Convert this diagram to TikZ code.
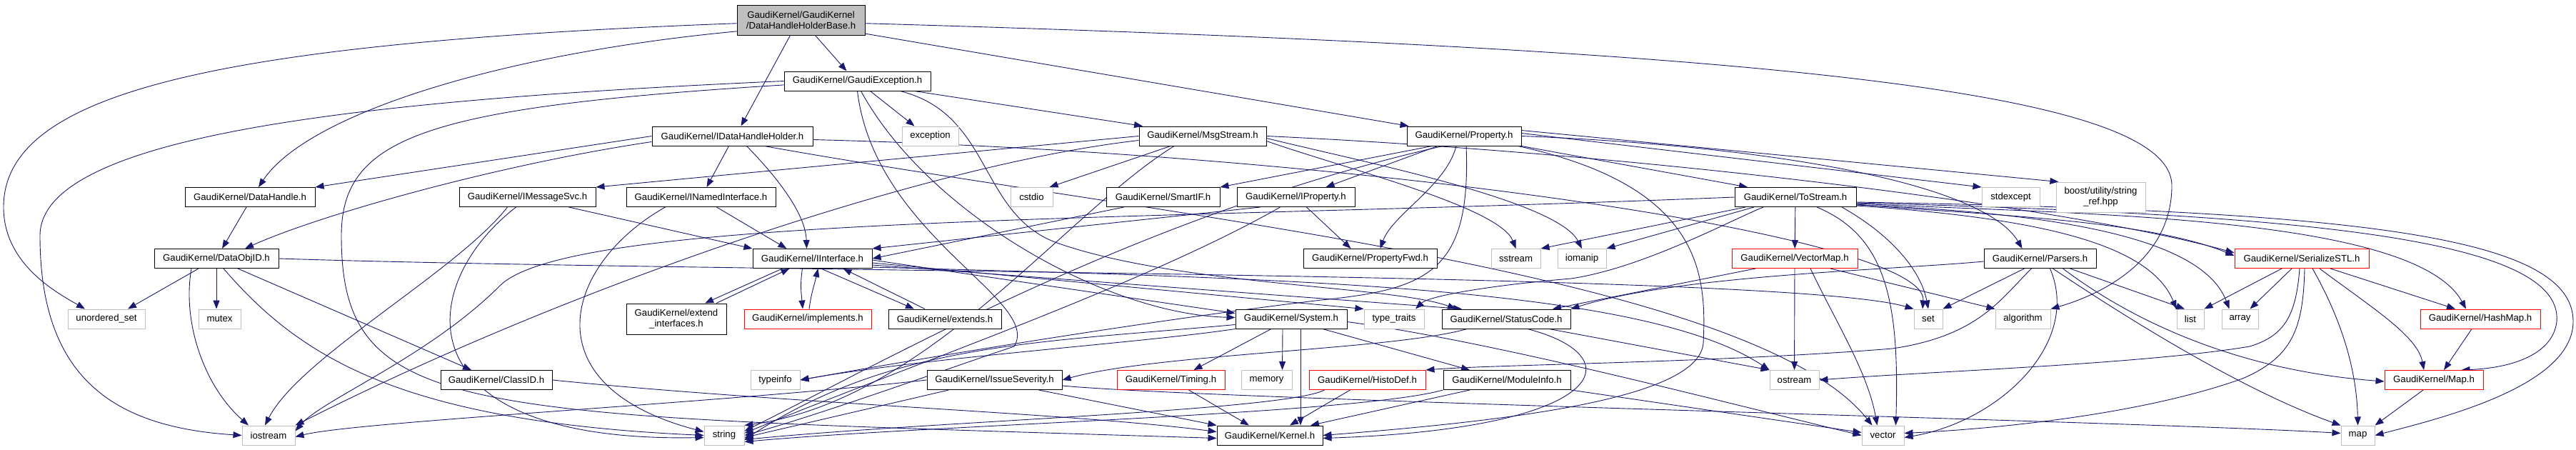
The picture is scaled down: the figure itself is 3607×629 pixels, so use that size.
\documentclass[tikz,border=0pt]{standalone}
\usepackage{fontspec}
\setmainfont{Liberation Sans}
\usetikzlibrary{arrows.meta}
\definecolor{edgeblue}{HTML}{191970}
\definecolor{boxgrey}{HTML}{BFBFBF}
\pgfdeclarelayer{bg}
\pgfsetlayers{bg,main}
\begin{document}
\begin{tikzpicture}[x=1pt,y=-1pt,
  box/.style={rectangle, draw, fill=white, line width=1pt, inner sep=0pt, minimum height=27pt,
    font=\fontsize{13.2}{15}\selectfont, align=center},
  nb/.style={box, draw=black},
  nr/.style={box, draw=red},
  ng/.style={box, draw=boxgrey},
  dep/.style={draw=edgeblue, line width=0.9pt, -{Triangle[length=12pt,width=9pt]}},
]
\useasboundingbox (0,0) rectangle (3607,629);
% row 1-3
\node[nb,fill=boxgrey,minimum width=179pt,minimum height=42pt] (root) at (1121.5,28) {GaudiKernel/GaudiKernel\\/DataHandleHolderBase.h};
\node[nb,minimum width=205pt] (gexc) at (1200.5,113.5) {GaudiKernel/GaudiException.h};
\node[nb,minimum width=225pt] (idhh) at (1025.5,190.5) {GaudiKernel/IDataHandleHolder.h};
\node[ng,minimum width=79pt] (exc) at (1302.5,190.5) {exception};
\node[nb,minimum width=178pt] (msg) at (1684,190.5) {GaudiKernel/MsgStream.h};
\node[nb,minimum width=160pt] (prop) at (2050,190.5) {GaudiKernel/Property.h};
% row 4
\node[nb,minimum width=182pt] (dh) at (350,276) {GaudiKernel/DataHandle.h};
\node[nb,minimum width=191pt] (ims) at (738.5,276) {GaudiKernel/IMessageSvc.h};
\node[nb,minimum width=209pt] (inam) at (981.5,276) {GaudiKernel/INamedInterface.h};
\node[ng,minimum width=59pt] (cstdio) at (1444.5,276) {cstdio};
\node[nb,minimum width=159pt] (smif) at (1628.5,276) {GaudiKernel/SmartIF.h};
\node[nb,minimum width=165pt] (iprop) at (1814.5,276) {GaudiKernel/IProperty.h};
\node[nb,minimum width=170pt] (tos) at (2514,276) {GaudiKernel/ToStream.h};
\node[ng,minimum width=81pt] (stdexc) at (2815.5,276) {stdexcept};
\node[ng,minimum width=125pt,minimum height=42pt] (boost) at (2941.5,276) {boost/utility/string\\\_ref.hpp};
% row 5
\node[nb,minimum width=174pt] (doid) at (303,362) {GaudiKernel/DataObjID.h};
\node[nb,minimum width=167pt] (iif) at (1137.5,362) {GaudiKernel/IInterface.h};
\node[nb,minimum width=187pt] (pfwd) at (1918.5,362) {GaudiKernel/PropertyFwd.h};
\node[ng,minimum width=69pt] (sstr) at (2122.5,362) {sstream};
\node[ng,minimum width=68pt] (ioman) at (2215,362) {iomanip};
\node[nr,minimum width=176pt] (vmap) at (2513,362) {GaudiKernel/VectorMap.h};
\node[nb,minimum width=157pt] (pars) at (2856.5,362) {GaudiKernel/Parsers.h};
\node[nr,minimum width=188pt] (sstl) at (3223,362) {GaudiKernel/SerializeSTL.h};
% row 6
\node[ng,minimum width=108pt] (uset) at (149,446.5) {unordered\_set};
\node[ng,minimum width=59pt] (mutex) at (307.5,446.5) {mutex};
\node[nb,minimum width=140pt,minimum height=43pt] (extif) at (947,446.5) {GaudiKernel/extend\\\_interfaces.h};
\node[nr,minimum width=178pt] (impl) at (1131,446.5) {GaudiKernel/implements.h};
\node[nb,minimum width=158pt] (exts) at (1323,446.5) {GaudiKernel/extends.h};
\node[nb,minimum width=156pt] (sys) at (1808,446.5) {GaudiKernel/System.h};
\node[ng,minimum width=84pt] (ttr) at (1952,446.5) {type\_traits};
\node[nb,minimum width=180pt] (sc) at (2109,446.5) {GaudiKernel/StatusCode.h};
\node[ng,minimum width=40pt] (set) at (2700,446.5) {set};
\node[ng,minimum width=77pt] (algo) at (2832.5,446.5) {algorithm};
\node[ng,minimum width=38pt] (list) at (3067,446.5) {list};
\node[ng,minimum width=51pt] (array) at (3136.5,446.5) {array};
\node[nr,minimum width=168pt] (hmap) at (3473,446.5) {GaudiKernel/HashMap.h};
% row 7
\node[nb,minimum width=156pt] (clid) at (695,532) {GaudiKernel/ClassID.h};
\node[ng,minimum width=69pt] (tinfo) at (1085.5,532) {typeinfo};
\node[nb,minimum width=189pt] (isev) at (1392.5,532) {GaudiKernel/IssueSeverity.h};
\node[nr,minimum width=151pt] (timing) at (1639.5,532) {GaudiKernel/Timing.h};
\node[ng,minimum width=71pt] (memory) at (1773.5,532) {memory};
\node[nr,minimum width=163pt] (hdef) at (1914.5,532) {GaudiKernel/HistoDef.h};
\node[nb,minimum width=178pt] (minfo) at (2110,532) {GaudiKernel/ModuleInfo.h};
\node[ng,minimum width=69pt] (ostr) at (2512.5,532) {ostream};
\node[nr,minimum width=138pt] (maph) at (3408,532) {GaudiKernel/Map.h};
% row 8
\node[ng,minimum width=74pt] (iostr) at (376,609.5) {iostream};
\node[ng,minimum width=56pt] (str) at (1014,609.5) {string};
\node[nb,minimum width=148pt] (kern) at (1778,609.5) {GaudiKernel/Kernel.h};
\node[ng,minimum width=59pt] (vec) at (2636.5,609.5) {vector};
\node[ng,minimum width=47pt] (map) at (3301.5,609.5) {map};

\begin{pgfonlayer}{bg}
% root
\draw[dep] (root.183) .. controls (300,60) and (5,130) .. (5,290) .. controls (5,370) and (80,410) .. ([xshift=-30pt]uset.north);
\draw[dep] (root.190) .. controls (700,75) and (430,160) .. ([xshift=12pt]dh.north);
\draw[dep] ([xshift=-15pt]root.south) -- ([xshift=12pt]idhh.north);
\draw[dep] ([xshift=20pt]root.south) -- ([xshift=-15pt]gexc.north);
\draw[dep] (root.-12) -- ([xshift=3pt]prop.north west);
\draw[dep] (root.-3) .. controls (2500,70) and (3041,130) .. (3041,260) .. controls (3041,360) and (2950,410) .. (algo.north east);
% GaudiException
\draw[dep] ([xshift=18pt]gexc.south) -- ([xshift=-22pt]exc.north);
\draw[dep] ([xshift=80pt]gexc.south) -- ([xshift=-84pt]msg.north);
\draw[dep] (gexc.west) .. controls (500,140) and (56,190) .. (56,330) .. controls (56,530) and (160,598) .. (iostr.west);
\draw[dep] (gexc.183) .. controls (600,150) and (478,190) .. (478,330) .. controls (478,590) and (650,580) .. ([yshift=-4pt]kern.west);
\draw[dep] (gexc.south) .. controls (1225,330) and (1460,420) .. (1420,485) .. controls (1330,515) and (1150,580) .. (str.east);
\draw[dep] ([xshift=5pt]gexc.south) .. controls (1300,300) and (1550,440) .. ([yshift=2pt]sys.west);
\draw[dep] ([xshift=60pt]gexc.south) .. controls (1390,160) and (1370,300) .. (1480,340) .. controls (1650,400) and (1950,400) .. ([xshift=-70pt]sc.north);
% IDataHandleHolder
\draw[dep] (idhh.west) -- (dh.north east);
\draw[dep] ([yshift=-8pt]idhh.west) .. controls (700,230) and (450,300) .. ([xshift=40pt]doid.north);
\draw[dep] ([xshift=-5pt]idhh.south) -- ([xshift=8pt]inam.north);
\draw[dep] ([xshift=20pt]idhh.south) .. controls (1090,250) and (1128,300) .. ([xshift=-8pt]iif.north);
\draw[dep] ([xshift=45pt]idhh.south) .. controls (1600,300) and (2450,380) .. ([xshift=-15pt]vec.north);
\draw[dep] ([yshift=-5pt]idhh.east) .. controls (1900,215) and (2700,330) .. ([xshift=-8pt]set.north);
% MsgStream
\draw[dep] (msg.west) -- (ims.north east);
\draw[dep] ([xshift=-45pt]msg.south) -- ([xshift=25pt]cstdio.north);
\draw[dep] (msg.east) .. controls (2300,215) and (2900,290) .. ([yshift=8pt]sstl.west);
\draw[dep] ([yshift=-3pt]msg.east) .. controls (1900,225) and (2180,280) .. (ioman.north);
\draw[dep] ([yshift=-7pt]msg.east) .. controls (1880,235) and (2100,290) .. (sstr.north);
\draw[dep] ([xshift=-40pt]msg.south) .. controls (1490,300) and (1300,560) .. (str.north east);
\draw[dep] ([yshift=-6pt]msg.west) .. controls (1300,230) and (800,400) .. (iostr.north east);
% Property
\draw[dep] ([xshift=-37pt]prop.south) -- ([xshift=42pt]iprop.north);
\draw[dep] ([xshift=-11pt]prop.south) .. controls (2025,260) and (1950,300) .. ([xshift=14pt]pfwd.north);
\draw[dep] ([xshift=-45pt]prop.south) -- (smif.north east);
\draw[dep] (prop.south east) -- ([xshift=-67pt]tos.north);
\draw[dep] ([xshift=-5pt]prop.south east) .. controls (2380,260) and (2390,380) .. (2385,480) .. controls (2380,560) and (2100,590) .. (kern.east);
\draw[dep] (prop.east) .. controls (2500,205) and (2780,260) .. ([xshift=-25pt]pars.north);
\draw[dep] ([yshift=4pt]prop.east) -- (stdexc.north west);
\draw[dep] ([yshift=8pt]prop.east) -- (boost.160);
\draw[dep] ([xshift=-30pt]prop.south) .. controls (1600,300) and (1250,500) .. ([yshift=6pt]str.east);
\draw[dep] ([xshift=3pt]prop.south) .. controls (2060,380) and (2000,405) .. (1850,420) .. controls (1600,450) and (1300,500) .. (tinfo.east);
% DataHandle, DataObjID, ClassID
\draw[dep] ([xshift=-5pt]dh.south) -- ([xshift=8pt]doid.north);
\draw[dep] ([xshift=-25pt]doid.south) -- ([xshift=30pt]uset.north);
\draw[dep] (doid.south) -- (doid.south |- mutex.north);
\draw[dep] ([xshift=-35pt]doid.south) .. controls (255,450) and (285,540) .. ([xshift=-28pt]iostr.north);
\draw[dep] ([xshift=10pt]doid.south) .. controls (420,500) and (560,590) .. (str.west);
\draw[dep] ([xshift=30pt]doid.south) -- ([xshift=-35pt]clid.north);
\draw[dep] (doid.east) .. controls (1000,382) and (2500,380) .. (set.north west);
\draw[dep] (clid.east) .. controls (1100,565) and (1500,578) .. ([yshift=5pt]kern.west);
% IMessageSvc, INamedInterface, SmartIF, IProperty
\draw[dep] ([xshift=58pt]ims.south) -- (iif.north west);
\draw[dep] ([xshift=-28pt]ims.south) .. controls (640,380) and (420,500) .. ([xshift=-5pt]iostr.north);
\draw[dep] ([xshift=-16pt]ims.south) .. controls (580,400) and (560,620) .. ([yshift=-3pt]str.west);
\draw[dep] ([xshift=22pt]inam.south) -- ([xshift=-36pt]iif.north);
\draw[dep] ([xshift=-50pt]inam.south) .. controls (790,370) and (740,540) .. ([yshift=5pt]str.west);
\draw[dep] ([xshift=-55pt]smif.south) -- (iif.east);
\draw[dep] ([xshift=-50pt]iprop.south) -- (iif.north east);
\draw[dep] ([xshift=15pt]iprop.south) -- ([xshift=-27pt]pfwd.north);
\draw[dep] ([xshift=-22pt]iprop.south) .. controls (1600,400) and (1250,520) .. ([yshift=3pt]str.east);
% ToStream
\draw[dep] (tos) -- (vmap);
\draw[dep] ([xshift=-70pt]tos.south) -- (sstr.north east);
\draw[dep] ([xshift=-58pt]tos.south) -- (ioman.north east);
\draw[dep] ([xshift=-45pt]tos.south) .. controls (2420,310) and (2300,375) .. (2200,390) .. controls (2080,400) and (2000,415) .. ([xshift=30pt]ttr.north);
\draw[dep] (tos.west) .. controls (1600,310) and (800,300) .. (700,400) .. controls (600,500) and (450,560) .. ([yshift=6pt]iostr.east);
\draw[dep] ([yshift=-10pt]tos.east) .. controls (2750,300) and (3000,305) .. ([yshift=4pt]sstl.west);
\draw[dep] ([yshift=-9pt]tos.east) .. controls (2900,300) and (3380,300) .. ([xshift=-20pt]hmap.north);
\draw[dep] ([yshift=-8pt]tos.east) .. controls (3200,300) and (3590,330) .. (3580,450) .. controls (3575,495) and (3520,515) .. (maph.20);
\draw[dep] ([yshift=-7pt]tos.east) .. controls (3300,295) and (3603,330) .. (3603,450) .. controls (3603,540) and (3420,585) .. (map.east);
\draw[dep] ([yshift=-12pt]tos.east) .. controls (2850,305) and (3010,340) .. (list.north west);
\draw[dep] ([yshift=-11pt]tos.east) .. controls (2950,300) and (3090,350) .. ([xshift=-15pt]array.north);
\draw[dep] ([xshift=65pt]tos.south) .. controls (2650,330) and (2690,380) .. (set.north);
\draw[dep] ([xshift=30pt]tos.south) .. controls (2640,330) and (2660,420) .. ([xshift=18pt]vec.north);
% IInterface
\draw[dep] ([xshift=-42pt]iif.south) -- ([xshift=40pt]extif.north);
\draw[dep] ([xshift=56pt]extif.north) -- ([xshift=-32pt]iif.south);
\draw[dep] ([xshift=-14pt]iif.south) .. controls (1120,400) and (1122,410) .. ([xshift=-7pt]impl.north);
\draw[dep] ([xshift=2pt]impl.north) .. controls (1136,410) and (1140,400) .. ([xshift=8pt]iif.south);
\draw[dep] ([xshift=12pt]iif.south) -- ([xshift=-43pt]exts.north);
\draw[dep] ([xshift=-28pt]exts.north) -- ([xshift=43pt]iif.south);
\draw[dep] ([yshift=-2pt]iif.east) -- ([yshift=8pt]sys.west);
\draw[dep] ([yshift=-6pt]iif.east) -- (ttr.north west);
\draw[dep] ([yshift=-9pt]iif.east) -- ([xshift=-62pt]sc.north);
\draw[dep] ([yshift=-12pt]iif.east) .. controls (1800,390) and (2300,400) .. (ostr.north west);
% System
\draw[dep] ([xshift=-28pt]sys.south) -- ([xshift=32pt]timing.north);
\draw[dep] ([xshift=44pt]sys.south) -- ([xshift=-52pt]minfo.north);
\draw[dep] ([xshift=-12pt]sys.south) -- ([xshift=22pt]memory.north);
\draw[dep] ([xshift=13pt]sys.south) -- ([xshift=43pt]kern.north);
\draw[dep] (sys.south west) .. controls (1600,480) and (1300,500) .. (tinfo.east);
\draw[dep] ([yshift=-8pt]sys.west) .. controls (1450,480) and (1250,480) .. ([yshift=-6pt]str.east);
\draw[dep] ([yshift=-4pt]sys.east) .. controls (2100,480) and (2400,560) .. (vec.west);
% StatusCode
\draw[dep] ([xshift=-55pt]sc.south) .. controls (1950,490) and (1620,495) .. (isev.east);
\draw[dep] ([xshift=30pt]sc.south) .. controls (2290,500) and (2250,600) .. ([yshift=-4pt]kern.east);
\draw[dep] ([xshift=60pt]sc.south) -- (ostr.north west);
% IssueSeverity, Timing, HistoDef, ModuleInfo
\draw[dep] ([xshift=62pt]isev.south) -- (kern.north west);
\draw[dep] ([xshift=-64pt]isev.south) -- ([yshift=-3pt]str.east);
\draw[dep] (isev.west) .. controls (1000,565) and (500,590) .. ([yshift=-2pt]iostr.east);
\draw[dep] ([yshift=-8pt]isev.east) .. controls (1700,560) and (3000,590) .. ([yshift=3pt]map.west);
\draw[dep] ([xshift=25pt]timing.south) -- ([xshift=-29pt]kern.north);
\draw[dep] ([xshift=-24pt]hdef.south) -- ([xshift=28pt]kern.north);
\draw[dep] ([xshift=-60pt]hdef.south) .. controls (1800,575) and (1300,590) .. ([yshift=-6pt]str.east);
\draw[dep] ([xshift=-52pt]minfo.south) -- ([xshift=57pt]kern.north);
\draw[dep] (minfo.south west) .. controls (1900,580) and (1300,595) .. ([yshift=-9pt]str.east);
\draw[dep] (minfo.south east) -- ([yshift=4pt]vec.west);
% VectorMap
\draw[dep] ([xshift=-55pt]vmap.south) -- ([xshift=65pt]sc.north);
\draw[dep] (vmap) -- (ostr);
\draw[dep] ([xshift=22pt]vmap.south) .. controls (2570,450) and (2615,520) .. ([xshift=-8pt]vec.north);
\draw[dep] ([xshift=50pt]vmap.south) -- (algo.north west);
% Parsers
\draw[dep] ([yshift=-4pt]pars.west) .. controls (2650,378) and (2350,385) .. (sc.north east);
\draw[dep] ([xshift=-12pt]pars.south) .. controls (2800,420) and (2770,470) .. (2650,488) .. controls (2400,508) and (2100,510) .. (hdef.north east);
\draw[dep] ([xshift=-22pt]pars.south) -- (set.north east);
\draw[dep] ([xshift=14pt]pars.south) .. controls (2915,480) and (2800,590) .. ([yshift=-3pt]vec.east);
\draw[dep] ([xshift=18pt]pars.south) .. controls (3000,460) and (3150,550) .. (map.north west);
\draw[dep] ([xshift=32pt]pars.south) .. controls (3000,460) and (3150,520) .. ([yshift=-2pt]maph.west);
\draw[dep] ([xshift=42pt]pars.south) -- ([xshift=-8pt]list.north);
% SerializeSTL
\draw[dep] ([xshift=-28pt]sstl.south) -- (list.north east);
\draw[dep] ([xshift=-14pt]sstl.south) -- ([xshift=14pt]array.north);
\draw[dep] ([xshift=-3pt]sstl.south) .. controls (3215,440) and (3200,470) .. (3150,485) .. controls (3000,510) and (2700,520) .. (ostr.east);
\draw[dep] ([xshift=4pt]sstl.south) .. controls (3225,460) and (3210,500) .. (3140,530) .. controls (3000,580) and (2800,600) .. ([yshift=3pt]vec.east);
\draw[dep] ([xshift=15pt]sstl.south) .. controls (3280,450) and (3300,520) .. (map.north);
\draw[dep] ([xshift=25pt]sstl.south) .. controls (3320,430) and (3385,470) .. ([xshift=-14pt]maph.north);
\draw[dep] ([xshift=40pt]sstl.south) -- ([xshift=-35pt]hmap.north);
% HashMap, Map
\draw[dep] ([xshift=-12pt]hmap.south) -- ([xshift=14pt]maph.north);
\draw[dep] ([xshift=-15pt]maph.south) -- (map.north east);
\end{pgfonlayer}
\end{tikzpicture}
\end{document}
